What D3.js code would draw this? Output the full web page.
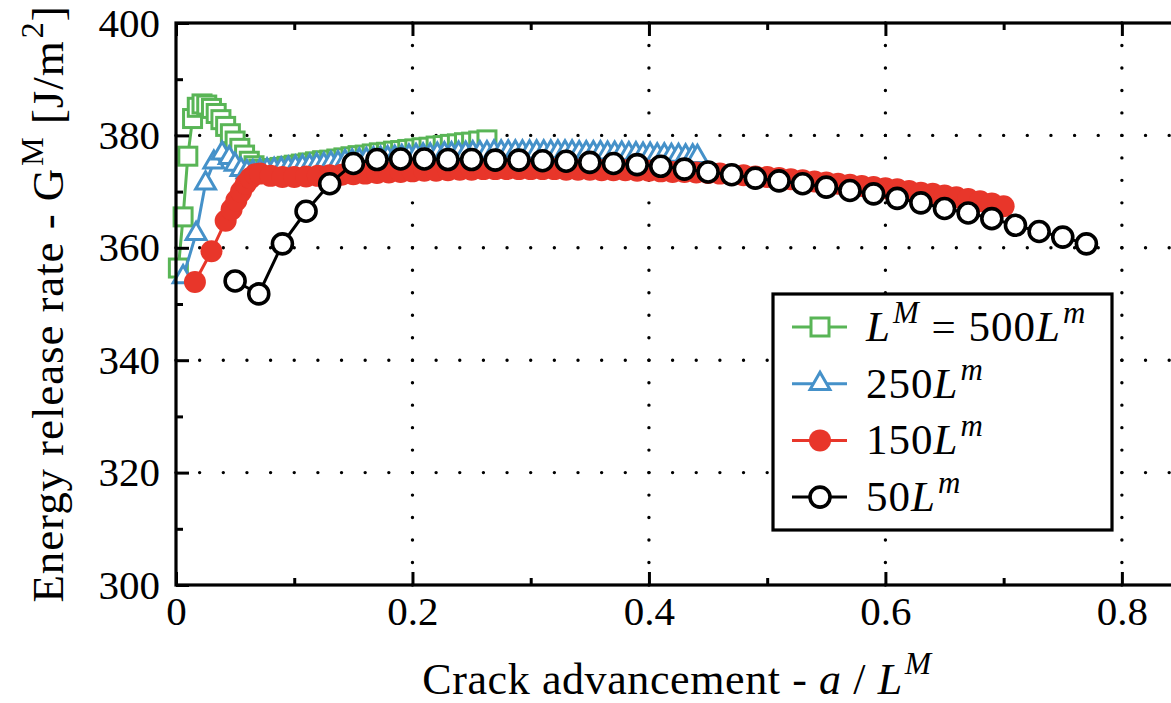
<!DOCTYPE html>
<html>
<head>
<meta charset="utf-8">
<script src="https://cdn.jsdelivr.net/npm/d3@7/dist/d3.min.js"></script>
<style>
  html, body { margin: 0; padding: 0; background: #fff; overflow: hidden; }
  svg { display: block; }
</style>
</head>
<body>
<svg id="chart" width="1171" height="703"></svg>
<script>
// Energy release rate vs crack advancement, four macro sizes

// [a / L^M, G^M in J/m^2]
const LM500 = [
  [0.002,356.4],[0.006,365.5],[0.010,376.3],[0.014,383.0],[0.018,385.0],[0.022,385.6],
  [0.026,385.4],[0.030,384.8],[0.034,383.9],[0.038,382.8],[0.042,381.6],[0.046,380.3],
  [0.050,379.0],[0.054,377.7],[0.058,376.5],[0.062,375.4],[0.066,374.6],[0.070,374.0],
  [0.076,373.9],[0.082,374.1],[0.088,374.3],[0.094,374.5],[0.100,374.7],[0.106,374.9],
  [0.112,375.1],[0.118,375.3],[0.124,375.5],[0.130,375.6],[0.136,375.8],[0.142,376.0],
  [0.148,376.2],[0.154,376.4],[0.160,376.5],[0.166,376.7],[0.172,376.9],[0.178,377.0],
  [0.184,377.2],[0.190,377.3],[0.196,377.5],[0.202,377.6],[0.208,377.8],[0.214,377.9],
  [0.220,378.1],[0.226,378.2],[0.232,378.4],[0.238,378.5],[0.244,378.7],[0.250,378.8],
  [0.256,379.0],[0.263,379.2]
];
const LM250 = [
  [0.006,354.8],[0.017,362.5],[0.025,371.5],[0.032,375.2],[0.039,376.8],[0.045,376.0],
  [0.050,374.8],[0.055,373.9],[0.060,373.5],[0.065,373.5],[0.071,373.7],[0.077,373.8],
  [0.083,373.9],[0.089,374.0],[0.095,374.1],[0.101,374.3],[0.107,374.4],[0.113,374.5],
  [0.119,374.7],[0.125,374.8],[0.131,375.0],[0.137,375.1],[0.143,375.3],[0.149,375.4],
  [0.155,375.6],[0.161,375.7],[0.167,375.8],[0.173,375.9],[0.179,376.0],[0.185,376.1],
  [0.191,376.2],[0.197,376.3],[0.203,376.4],[0.209,376.5],[0.215,376.5],[0.221,376.6],
  [0.227,376.7],[0.233,376.7],[0.239,376.8],[0.245,376.8],[0.251,376.9],[0.257,376.9],
  [0.263,376.9],[0.269,377.0],[0.275,377.0],[0.281,377.0],[0.287,377.0],[0.293,377.0],
  [0.299,377.0],[0.305,377.0],[0.311,377.0],[0.317,377.0],[0.323,377.0],[0.329,377.0],
  [0.335,377.0],[0.341,376.9],[0.347,376.9],[0.353,376.9],[0.359,376.9],[0.365,376.8],
  [0.371,376.8],[0.377,376.8],[0.383,376.7],[0.389,376.7],[0.395,376.6],[0.401,376.6],
  [0.407,376.5],[0.413,376.5],[0.419,376.4],[0.425,376.4],[0.431,376.3],[0.437,376.3],
  [0.441,376.2]
];
const LM150 = [
  [0.016,353.9],[0.030,359.4],[0.042,364.8],[0.047,366.8],[0.051,368.4],[0.055,370.0],
  [0.059,371.4],[0.063,372.4],[0.067,373.1],[0.071,373.2],[0.080,372.8],[0.090,372.6],
  [0.100,372.6],[0.110,372.7],[0.120,372.8],[0.130,372.9],[0.140,373.0],[0.150,373.1],
  [0.160,373.2],[0.170,373.3],[0.180,373.4],[0.190,373.5],[0.200,373.6],[0.210,373.7],
  [0.220,373.7],[0.230,373.8],[0.240,373.9],[0.250,373.9],[0.260,374.0],[0.270,374.0],
  [0.280,374.0],[0.290,374.0],[0.300,374.0],[0.310,374.0],[0.320,374.0],[0.330,373.9],
  [0.340,373.9],[0.350,373.9],[0.360,373.8],[0.370,373.8],[0.380,373.8],[0.390,373.7],
  [0.400,373.7],[0.410,373.6],[0.420,373.5],[0.430,373.5],[0.440,373.4],[0.450,373.3],
  [0.460,373.2],[0.470,373.0],[0.480,372.9],[0.490,372.7],[0.500,372.6],[0.510,372.4],
  [0.520,372.2],[0.530,372.0],[0.540,371.8],[0.550,371.6],[0.560,371.4],[0.570,371.2],
  [0.580,371.0],[0.590,370.8],[0.600,370.6],[0.610,370.4],[0.620,370.1],[0.630,369.8],
  [0.640,369.6],[0.650,369.3],[0.660,369.0],[0.670,368.7],[0.680,368.3],[0.690,367.9],
  [0.700,367.4]
];
const LM50 = [
  [0.05,354.1],[0.07,351.8],[0.09,360.7],[0.11,366.5],[0.13,371.4],[0.15,375.0],
  [0.17,375.7],[0.19,375.8],[0.21,375.8],[0.23,375.7],[0.25,375.7],[0.27,375.6],
  [0.29,375.6],[0.31,375.5],[0.33,375.4],[0.35,375.2],[0.37,375.0],[0.39,374.8],
  [0.41,374.5],[0.43,374.0],[0.45,373.5],[0.47,373.0],[0.49,372.4],[0.51,371.9],
  [0.53,371.4],[0.55,370.8],[0.57,370.2],[0.59,369.6],[0.61,368.8],[0.63,368.0],
  [0.65,367.0],[0.67,366.2],[0.69,365.2],[0.71,364.0],[0.73,362.9],[0.75,361.9],
  [0.77,360.7]
];

const X_TICKS       = [0, 0.2, 0.4, 0.6, 0.8];
const X_MINOR_TICKS = [0.1, 0.3, 0.5, 0.7];
const Y_TICKS       = [300, 320, 340, 360, 380, 400];
const Y_MINOR_TICKS = [310, 330, 350, 370, 390];
const X_GRID        = [0.2, 0.4, 0.6, 0.8];
const Y_GRID        = [320, 340, 360, 380];

const SERIES = [
  { data: LM500, color: "#59b556", marker: "square",   label: [["L",1,0],["M",1,1],[" = 500",0,0],["L",1,0],["m",1,1]] },
  { data: LM250, color: "#4591c9", marker: "triangle", label: [["250",0,0],["L",1,0],["m",1,1]] },
  { data: LM150, color: "#e8362a", marker: "dot",      label: [["150",0,0],["L",1,0],["m",1,1]] },
  { data: LM50,  color: "#000000", marker: "circle",   label: [["50",0,0],["L",1,0],["m",1,1]] }
];

const FONT = "'Liberation Serif', 'Times New Roman', Times, 'DejaVu Serif', 'Noto Serif', serif";

const W = 1171, H = 703;
const margin = { top: 23, left: 176, bottom: 118 };
const plotW = 1005;                   // right edge falls outside the picture
const plotH = H - margin.top - margin.bottom;

const svg = d3.select("#chart").style("font-family", FONT);

const x = d3.scaleLinear().domain([0, 0.85]).range([margin.left, margin.left + plotW]);
const y = d3.scaleLinear().domain([300, 400]).range([margin.top + plotH, margin.top]);

// dotted grid
const gGrid = svg.append("g").attr("class", "grid")
  .attr("stroke", "#000").attr("stroke-width", 3.4).attr("stroke-linecap", "round");
gGrid.selectAll(".gx").data(X_GRID).join("line")
  .attr("x1", d => x(d)).attr("x2", d => x(d))
  .attr("y1", y(300)).attr("y2", y(400))
  .attr("stroke-dasharray", `0 ${plotH / 25}`);
gGrid.selectAll(".gy").data(Y_GRID).join("line")
  .attr("x1", x(0)).attr("x2", x(0.85))
  .attr("y1", d => y(d)).attr("y2", d => y(d))
  .attr("stroke-dasharray", `0 ${x(0.02) - x(0)}`);

// markers
function drawMarker(sel, kind, color) {
  if (kind === "square") {
    sel.append("rect").attr("x", -9).attr("y", -9).attr("width", 18).attr("height", 18)
      .attr("fill", "#fff").attr("stroke", color).attr("stroke-width", 3);
  } else if (kind === "triangle") {
    sel.append("path").attr("d", d3.symbol(d3.symbolTriangle, 170)())
      .attr("fill", "#fff").attr("stroke", color).attr("stroke-width", 3)
      .attr("stroke-linejoin", "miter");
  } else if (kind === "dot") {
    sel.append("circle").attr("r", 11).attr("fill", color);
  } else {
    sel.append("circle").attr("r", 10).attr("fill", "#fff")
      .attr("stroke", color).attr("stroke-width", 3.6);
  }
}

const line = d3.line().x(d => x(d[0])).y(d => y(d[1]));

SERIES.forEach(s => {
  const g = svg.append("g");
  g.append("path").datum(s.data)
    .attr("fill", "none").attr("stroke", s.color).attr("stroke-width", 3)
    .attr("d", line);
  g.selectAll("g.pt").data(s.data).join("g")
    .attr("class", "pt")
    .attr("transform", d => `translate(${x(d[0])},${y(d[1])})`)
    .each(function() { drawMarker(d3.select(this), s.marker, s.color); });
});

// axes, ticks inward on all four sides
function styleAxis(g) {
  g.attr("font-family", null).attr("font-size", null);
  g.select(".domain").remove();
  g.selectAll(".tick line").attr("stroke", "#000").attr("stroke-width", 3);
  g.selectAll(".tick text").attr("font-size", 41).style("font-family", FONT);
}
const bottomY = y(300), topY = y(400), leftX = x(0), rightX = x(0.85);

svg.append("g").attr("transform", `translate(0,${bottomY})`)
  .call(d3.axisBottom(x).tickValues(X_TICKS).tickSize(-13).tickPadding(11)
    .tickFormat(d => d === 0 ? "0" : d3.format(".1f")(d)))
  .call(styleAxis);
svg.append("g").attr("transform", `translate(0,${bottomY})`)
  .call(d3.axisBottom(x).tickValues(X_MINOR_TICKS).tickSize(-7).tickFormat(""))
  .call(styleAxis);
svg.append("g").attr("transform", `translate(0,${topY})`)
  .call(d3.axisTop(x).tickValues(X_TICKS).tickSize(-13).tickFormat(""))
  .call(styleAxis);
svg.append("g").attr("transform", `translate(0,${topY})`)
  .call(d3.axisTop(x).tickValues(X_MINOR_TICKS).tickSize(-7).tickFormat(""))
  .call(styleAxis);
svg.append("g").attr("transform", `translate(${leftX},0)`)
  .call(d3.axisLeft(y).tickValues(Y_TICKS).tickSize(-13).tickPadding(16))
  .call(styleAxis);
svg.append("g").attr("transform", `translate(${leftX},0)`)
  .call(d3.axisLeft(y).tickValues(Y_MINOR_TICKS).tickSize(-7).tickFormat(""))
  .call(styleAxis);

// frame
svg.append("rect")
  .attr("x", leftX).attr("y", topY)
  .attr("width", rightX - leftX).attr("height", bottomY - topY)
  .attr("fill", "none").attr("stroke", "#000").attr("stroke-width", 3.2);

// rich text helper: parts = [text, italic, superscript]
function richText(sel, parts, size, supScale = 0.72, rise = 0.45) {
  sel.style("font-family", FONT);
  let up = false;
  parts.forEach(([t, it, sup]) => {
    const ts = sel.append("tspan").text(t)
      .attr("font-style", it ? "italic" : "normal")
      .attr("font-size", sup ? size * supScale : size);
    if (sup && !up) { ts.attr("dy", -size * rise).attr("dx", 2); up = true; }
    else if (!sup && up) { ts.attr("dy", size * rise); up = false; }
  });
}

// axis titles
const xt = svg.append("text")
  .attr("x", 677).attr("y", 694).attr("text-anchor", "middle")
  .attr("letter-spacing", 0.6);
richText(xt, [["Crack advancement - ",0,0],["a",1,0],[" / ",0,0],["L",1,0],["M",1,1]], 44);

const yt = svg.append("text")
  .attr("transform", `translate(63,${(topY + bottomY) / 2}) rotate(-90)`)
  .attr("text-anchor", "middle")
  .attr("letter-spacing", 0.9);
richText(yt, [["Energy release rate - G",0,0],["M",0,1],["  [J/m",0,0],["2",0,1],["]",0,0]], 45);

// legend
const legend = svg.append("g");
legend.append("rect")
  .attr("x", 773).attr("y", 294).attr("width", 339).attr("height", 236)
  .attr("fill", "#fff").attr("stroke", "#000").attr("stroke-width", 3.2);
SERIES.forEach((s, i) => {
  const ry = 327 + i * 56.7;
  legend.append("line")
    .attr("x1", 792).attr("x2", 847).attr("y1", ry).attr("y2", ry)
    .attr("stroke", s.color).attr("stroke-width", 3);
  drawMarker(legend.append("g").attr("transform", `translate(820,${ry})`), s.marker, s.color);
  const t = legend.append("text").attr("x", 866).attr("y", ry + 14)
    .attr("letter-spacing", 1);
  richText(t, s.label, 43, 0.72, 0.42);
});
</script>
</body>
</html>
